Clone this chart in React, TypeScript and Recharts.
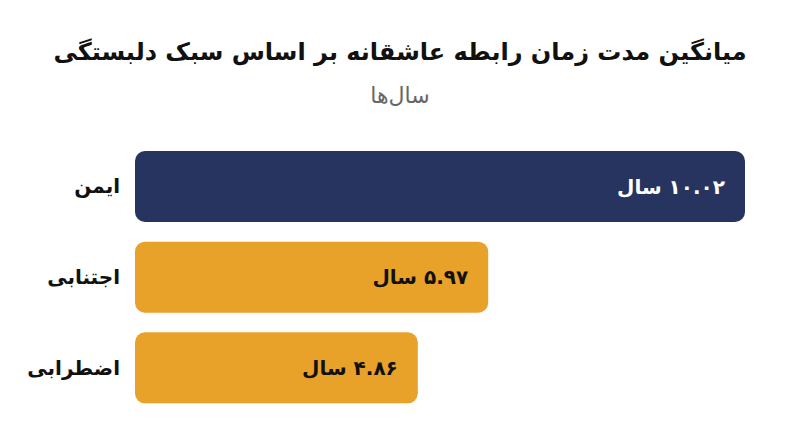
import React from 'react';
import { BarChart, Bar, XAxis, YAxis, Cell, LabelList } from 'recharts';

const TITLE = 'میانگین مدت زمان رابطه عاشقانه بر اساس سبک دلبستگی';
const SUBTITLE = 'سال‌ها';
const UNIT = 'سال';

const categories = ['ایمن', 'اجتنابی', 'اضطرابی'];
const years = [10.02, 5.97, 4.86];
const barColors = ['#27345F', '#E8A22A', '#E8A22A'];
const labelColors = ['#FFFFFF', '#111111', '#111111'];

const data = categories.map((name, i) => ({ name, value: years[i] }));

const FONT = '"DejaVu Sans", "Noto Sans", sans-serif';

const toPersianDigits = (s: string) => s.replace(/\d/g, d => '۰۱۲۳۴۵۶۷۸۹'[Number(d)]);

const CategoryTick = (props: any) => {
  const { x, y, payload } = props;
  return (
    <text x={x} y={y} dy={7} textAnchor="end" fontFamily={FONT} fontSize={20} fontWeight={700} fill="#111">
      {payload.value}
    </text>
  );
};

// value label sits inside the bar, right aligned, number on the right (rtl)
const ValueLabel = (props: any) => {
  const { x, y, width, height, value, index } = props;
  const text = '\u200F' + toPersianDigits(Number(value).toFixed(2)) + ' ' + UNIT;
  return (
    <text
      x={x + width - 20}
      y={y + height / 2}
      dy={7}
      textAnchor="end"
      fontFamily={FONT}
      fontSize={20}
      fontWeight={700}
      fill={labelColors[index]}
    >
      {text}
    </text>
  );
};

const App: React.FC = () => {
  return (
    <div style={{ position: 'relative', width: 800, height: 447, background: '#fff', fontFamily: FONT }}>
      <style>{'body{margin:0}'}</style>
      <div style={{ position: 'absolute', top: 38, left: 0, width: 800, textAlign: 'center', fontSize: 24, fontWeight: 700, color: '#111' }}>
        {TITLE}
      </div>
      <div style={{ position: 'absolute', top: 83, left: 0, width: 800, textAlign: 'center', fontSize: 22, color: '#666' }}>
        {SUBTITLE}
      </div>
      <BarChart
        width={800}
        height={447}
        data={data}
        layout="vertical"
        margin={{ top: 141, right: 55, bottom: 34, left: 0 }}
      >
        <XAxis type="number" hide domain={[0.4, 10.02]} allowDataOverflow />
        <YAxis
          type="category"
          dataKey="name"
          width={135}
          axisLine={false}
          tickLine={false}
          tickSize={0}
          tickMargin={15}
          tick={<CategoryTick />}
        />
        <Bar dataKey="value" barSize={71} radius={10} isAnimationActive={false}>
          {data.map((d, i) => (
            <Cell key={d.name} fill={barColors[i]} />
          ))}
          <LabelList dataKey="value" content={<ValueLabel />} />
        </Bar>
      </BarChart>
    </div>
  );
};

export default App;
